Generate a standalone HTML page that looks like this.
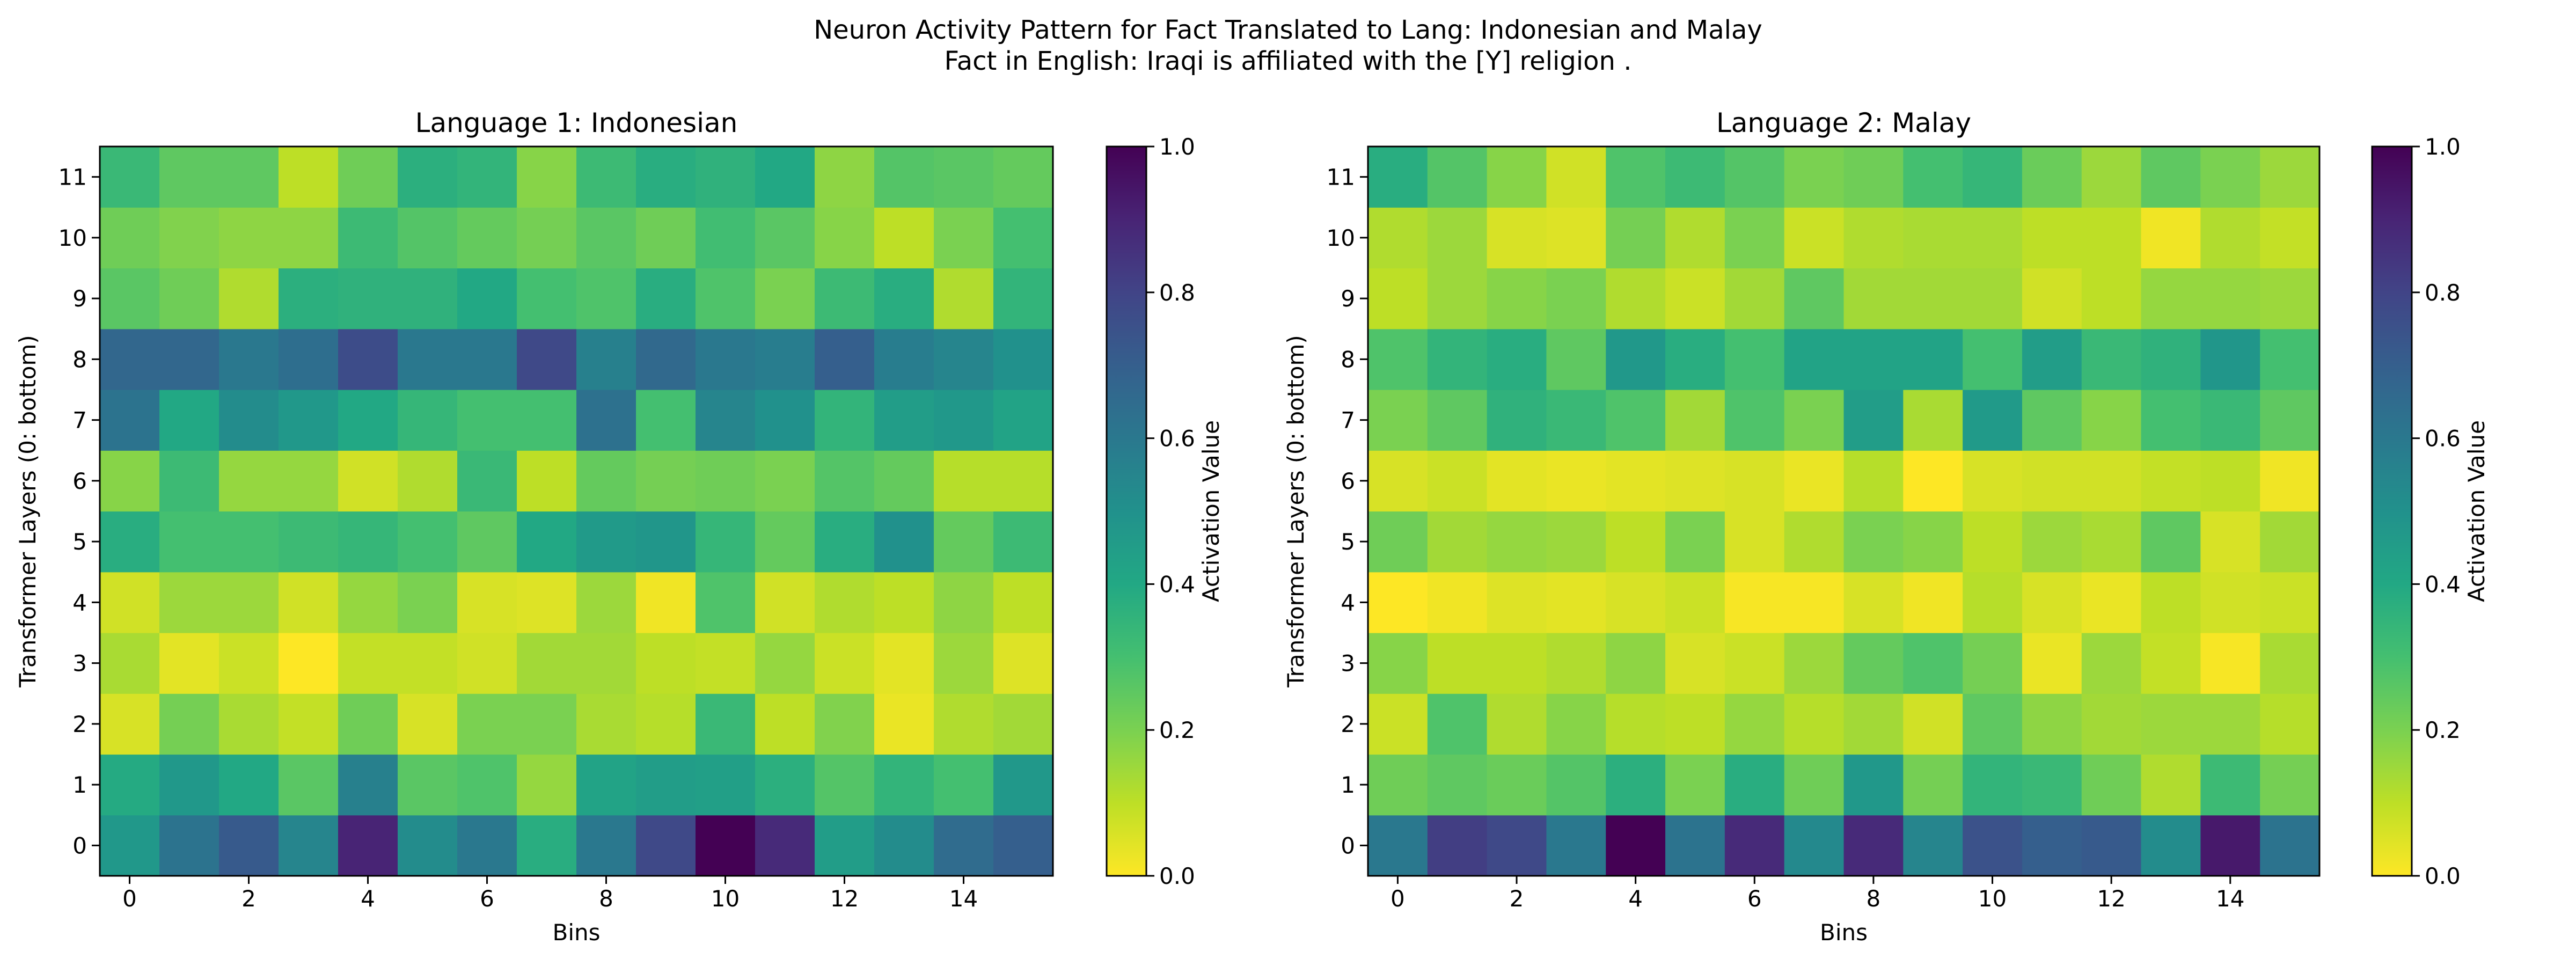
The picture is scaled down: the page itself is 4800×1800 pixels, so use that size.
<!DOCTYPE html>
<html><head><meta charset="utf-8"><style>
html,body{margin:0;padding:0;background:#fff;}
svg{display:block;font-family:"DejaVu Sans","Liberation Sans",sans-serif;}
</style></head><body>
<svg id="fig" width="4800" height="1800" viewBox="0 0 4800 1800" xmlns="http://www.w3.org/2000/svg">
<rect x="0" y="0" width="4800" height="1800" fill="#fff"/>
<text x="2400" y="72" font-size="48" text-anchor="middle">Neuron Activity Pattern for Fact Translated to Lang: Indonesian and Malay</text>
<text x="2400" y="130" font-size="48" text-anchor="middle">Fact in English: Iraqi is affiliated with the [Y] religion .</text>
</svg>
<script>
const bins = [0,1,2,3,4,5,6,7,8,9,10,11,12,13,14,15];
const layers = [0,1,2,3,4,5,6,7,8,9,10,11];
const xTickLabels = ["0","2","4","6","8","10","12","14"];
const yTickLabels = ["0","1","2","3","4","5","6","7","8","9","10","11"];
const cbarTickLabels = ["0.0","0.2","0.4","0.6","0.8","1.0"];
// rows listed from layer 0 (bottom) to layer 11 (top)
const indonesianValues = [
[0.47,0.62,0.72,0.55,0.9,0.52,0.6,0.38,0.6,0.78,1.0,0.88,0.45,0.52,0.65,0.7],
[0.39,0.47,0.4,0.26,0.57,0.26,0.28,0.16,0.42,0.45,0.44,0.37,0.27,0.35,0.3,0.47],
[0.06,0.21,0.13,0.09,0.22,0.06,0.2,0.2,0.13,0.11,0.33,0.1,0.19,0.03,0.12,0.14],
[0.13,0.04,0.08,0.0,0.09,0.09,0.07,0.14,0.14,0.1,0.09,0.16,0.08,0.04,0.15,0.05],
[0.07,0.15,0.15,0.07,0.16,0.2,0.06,0.05,0.15,0.02,0.28,0.07,0.12,0.1,0.17,0.1],
[0.38,0.3,0.3,0.32,0.34,0.3,0.25,0.4,0.46,0.48,0.34,0.24,0.38,0.5,0.24,0.32],
[0.18,0.32,0.16,0.16,0.07,0.12,0.33,0.1,0.24,0.21,0.22,0.2,0.27,0.24,0.11,0.11],
[0.62,0.4,0.52,0.47,0.4,0.34,0.3,0.3,0.63,0.3,0.55,0.5,0.35,0.45,0.47,0.42],
[0.67,0.67,0.6,0.64,0.77,0.6,0.6,0.78,0.57,0.66,0.6,0.58,0.7,0.58,0.55,0.5],
[0.26,0.22,0.12,0.37,0.36,0.36,0.4,0.3,0.28,0.38,0.28,0.2,0.32,0.38,0.12,0.35],
[0.22,0.19,0.17,0.17,0.32,0.27,0.24,0.21,0.26,0.22,0.31,0.26,0.18,0.1,0.2,0.3],
[0.33,0.25,0.25,0.1,0.22,0.37,0.35,0.18,0.32,0.38,0.36,0.4,0.17,0.27,0.26,0.24]
];
const malayValues = [
[0.6,0.82,0.78,0.6,1.0,0.62,0.88,0.53,0.88,0.55,0.75,0.7,0.72,0.52,0.93,0.62],
[0.22,0.25,0.23,0.27,0.37,0.2,0.38,0.22,0.47,0.21,0.35,0.33,0.22,0.12,0.32,0.21],
[0.08,0.28,0.12,0.18,0.11,0.1,0.16,0.11,0.14,0.07,0.25,0.17,0.14,0.15,0.15,0.11],
[0.18,0.1,0.1,0.12,0.17,0.06,0.08,0.15,0.24,0.28,0.21,0.03,0.15,0.09,0.01,0.13],
[0.0,0.02,0.05,0.04,0.06,0.08,0.01,0.01,0.06,0.02,0.11,0.06,0.03,0.1,0.07,0.08],
[0.22,0.14,0.16,0.15,0.1,0.2,0.06,0.12,0.2,0.18,0.1,0.15,0.13,0.25,0.06,0.14],
[0.06,0.08,0.04,0.03,0.04,0.05,0.06,0.03,0.11,0.0,0.06,0.07,0.07,0.09,0.1,0.02],
[0.2,0.25,0.36,0.33,0.28,0.14,0.28,0.2,0.45,0.13,0.46,0.25,0.18,0.3,0.33,0.25],
[0.28,0.35,0.38,0.25,0.47,0.38,0.3,0.42,0.42,0.42,0.3,0.45,0.33,0.36,0.48,0.3],
[0.1,0.15,0.18,0.2,0.12,0.08,0.14,0.25,0.14,0.14,0.14,0.07,0.1,0.16,0.16,0.15],
[0.12,0.15,0.06,0.05,0.21,0.12,0.2,0.08,0.12,0.13,0.13,0.1,0.1,0.02,0.12,0.09],
[0.38,0.27,0.18,0.07,0.28,0.32,0.27,0.2,0.22,0.3,0.34,0.23,0.15,0.25,0.2,0.15]
];
const VIR = ["#440154","#482475","#414487","#355f8d","#2a788e","#21918c","#22a884","#44bf70","#7ad151","#bddf26","#fde725"];
function hex(h){return [parseInt(h.substr(1,2),16),parseInt(h.substr(3,2),16),parseInt(h.substr(5,2),16)];}
function cmap(v){ // viridis_r
  let t=1-Math.max(0,Math.min(1,v)); let p=t*10; let i=Math.min(9,Math.floor(p)); let f=p-i;
  let a=hex(VIR[i]), b=hex(VIR[i+1]);
  return "rgb("+a.map((c,k)=>Math.round(c+(b[k]-c)*f)).join(",")+")";
}
const NS="http://www.w3.org/2000/svg";
const svg=document.getElementById("fig");
function el(tag,attrs,parent){const e=document.createElementNS(NS,tag);for(const k in attrs)e.setAttribute(k,attrs[k]);(parent||svg).appendChild(e);return e;}
function panel(cfg){
  const g=el("g",{});
  
  
  const L=cfg.x0,R=cfg.x1,T=273,B=1632;
  const xs=v=>L+(v+0.5)*(R-L)/bins.length;
  const ys=v=>B-(v+0.5)*(B-T)/layers.length;
  const cw=(R-L)/bins.length, ch=(B-T)/layers.length;
  layers.forEach((ly,r)=>{bins.forEach((bn,c)=>{
    const rc=el("rect",{x:xs(bn)-cw/2,y:ys(ly)-ch/2,width:cw+0.6,height:ch+0.6,fill:cmap(cfg.data[r][c])},g);
    
    
  });});
  const fr=el("rect",{x:L,y:T,width:R-L,height:B-T,fill:"none",stroke:"#000","stroke-width":3},g);
  
  
  xTickLabels.forEach(s=>{const v=+s;const x=xs(v);
    el("line",{x1:x,y1:B,x2:x,y2:B+15,stroke:"#000","stroke-width":3},g);
    const t=el("text",{x:x,y:B+57,"font-size":42,"text-anchor":"middle"},g);t.textContent=s;
    
    
  });
  yTickLabels.forEach(s=>{const v=+s;const y=ys(v);
    el("line",{x1:L,y1:y,x2:L-15,y2:y,stroke:"#000","stroke-width":3},g);
    const t=el("text",{x:L-24,y:y+15,"font-size":42,"text-anchor":"end"},g);t.textContent=s;
    
    
  });
  let t=el("text",{x:(L+R)/2,y:246,"font-size":50,"text-anchor":"middle"},g);t.textContent=cfg.title;
  
  
  t=el("text",{x:(L+R)/2,y:1752,"font-size":42,"text-anchor":"middle"},g);t.textContent="Bins";
  
  
  t=el("text",{x:0,y:0,"font-size":42,"text-anchor":"middle",transform:"translate("+(L-120)+","+((T+B)/2)+") rotate(-90)"},g);t.textContent="Transformer Layers (0: bottom)";
  
  
  const cx0=cfg.cb, cx1=cfg.cb+74;
  const gid="grad"+cfg.name;
  const defs=el("defs",{},g);
  const lg=el("linearGradient",{id:gid,x1:0,y1:1,x2:0,y2:0},defs);
  for(let i=0;i<=20;i++){el("stop",{offset:(i/20),"stop-color":cmap(i/20)},lg);}
  const cb=el("rect",{x:cx0,y:T,width:cx1-cx0,height:B-T,fill:"url(#"+gid+")",stroke:"#000","stroke-width":3},g);
  
  
  cbarTickLabels.forEach(s=>{const v=+s;const y=B-v*(B-T);
    el("line",{x1:cx1,y1:y,x2:cx1+15,y2:y,stroke:"#000","stroke-width":3},g);
    const tt=el("text",{x:cx1+24,y:y+15,"font-size":42},g);tt.textContent=s;
    
    
  });
  t=el("text",{x:0,y:0,"font-size":42,"text-anchor":"middle",transform:"translate("+(cx1+135)+","+((T+B)/2)+") rotate(-90)"},g);t.textContent="Activation Value";
  
  
}
panel({name:"indonesian-heatmap",x0:186,x1:1962,cb:2062,data:indonesianValues,title:"Language 1: Indonesian"});
panel({name:"malay-heatmap",x0:2549,x1:4322,cb:4420,data:malayValues,title:"Language 2: Malay"});
</script>
</body></html>
